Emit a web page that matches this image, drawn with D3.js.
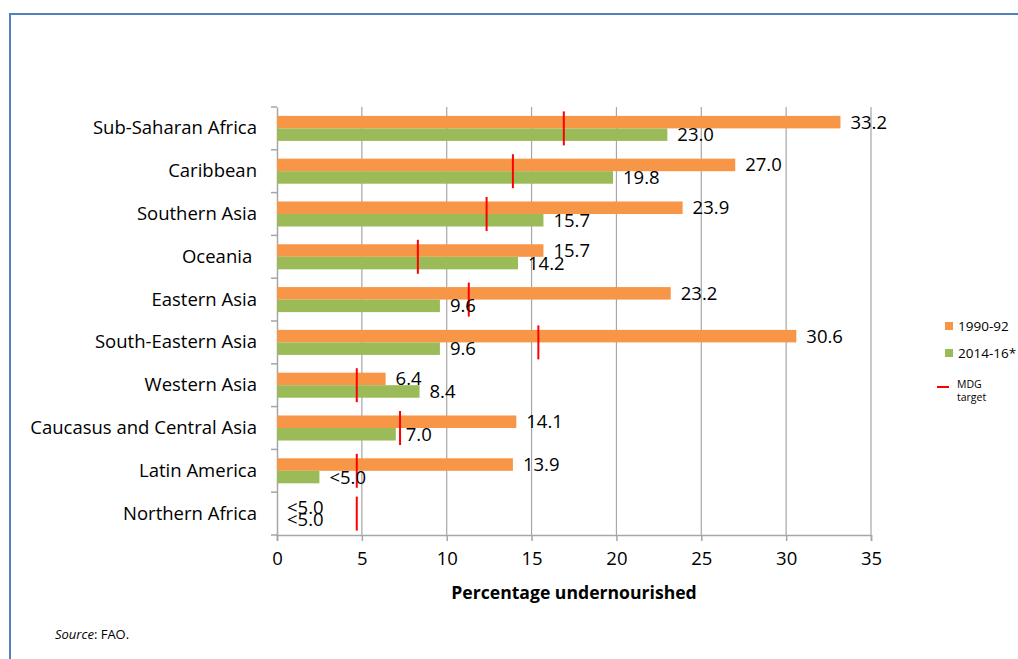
<!DOCTYPE html>
<html>
<head>
<meta charset="utf-8">
<script src="https://cdn.jsdelivr.net/npm/d3@7"></script>
<style>
  html, body { margin: 0; padding: 0; background: #fff; }
  svg { display: block; }
  text { font-family: "Open Sans", "Noto Sans", sans-serif; fill: #000; }
</style>
</head>
<body>
<svg id="chart" width="1018" height="659"></svg>
<script>
const categories = ["Sub-Saharan Africa", "Caribbean", "Southern Asia", "Oceania ", "Eastern Asia",
  "South-Eastern Asia", "Western Asia", "Caucasus and Central Asia", "Latin America", "Northern Africa"];
const values1990 = [33.2, 27.0, 23.9, 15.7, 23.2, 30.6, 6.4, 14.1, 13.9, 0];
const values2014 = [23.0, 19.8, 15.7, 14.2, 9.6, 9.6, 8.4, 7.0, 2.5, 0];
const labels1990 = ["33.2", "27.0", "23.9", "15.7", "23.2", "30.6", "6.4", "14.1", "13.9", "<5.0"];
const labels2014 = ["23.0", "19.8", "15.7", "14.2", "9.6", "9.6", "8.4", "7.0", "<5.0", "<5.0"];
const mdgTarget = [16.9, 13.9, 12.35, 8.3, 11.3, 15.4, 4.7, 7.25, 4.7, 4.7];
const seriesNames = ["1990-92", "2014-16*"];
const xTicks = [0, 5, 10, 15, 20, 25, 30, 35];

(function () {
const colors = { "1990-92": "#f79646", "2014-16*": "#9bbb59" };
const svg = d3.select("#chart");

// frame border
svg.append("line").attr("x1", 10).attr("x2", 1018).attr("y1", 14).attr("y2", 14)
  .attr("stroke", "#4f81bd").attr("stroke-width", 2);
svg.append("line").attr("x1", 10).attr("x2", 10).attr("y1", 13).attr("y2", 659)
  .attr("stroke", "#4f81bd").attr("stroke-width", 2);

const pLeft = 277, pRight = 871, pTop = 107, pBottom = 535;
const x = d3.scaleLinear().domain([0, 35]).range([pLeft, pRight]);
const y = d3.scaleBand().domain(categories).range([pTop, pBottom]).padding(0);
const ys = d3.scaleBand().domain(seriesNames).range([0, y.bandwidth()]).paddingInner(0).paddingOuter(0.71);

// gridlines
svg.append("g").selectAll("line").data(xTicks.slice(1)).join("line")
  .attr("x1", d => x(d)).attr("x2", d => x(d)).attr("y1", pTop).attr("y2", pBottom)
  .attr("stroke", "#a6a6a6").attr("stroke-width", 1.2);

// x axis
const xAxis = svg.append("g").attr("transform", `translate(0,${pBottom})`)
  .call(d3.axisBottom(x).tickValues(xTicks).tickSize(6).tickPadding(11).tickFormat(d3.format("d")));
xAxis.select(".domain").attr("stroke", "#a6a6a6").attr("stroke-width", 1.5);
xAxis.selectAll(".tick line").attr("stroke", "#a6a6a6").attr("stroke-width", 1.5);
xAxis.selectAll(".tick text").attr("font-size", 18.5).attr("font-family", "Open Sans, sans-serif").attr("fill", "#000");

// y axis
const yAxis = svg.append("g").attr("transform", `translate(${pLeft},0)`)
  .call(d3.axisLeft(y).tickSize(0).tickPadding(20));
yAxis.select(".domain").attr("stroke", "#a6a6a6").attr("stroke-width", 1.5);
yAxis.selectAll(".tick text").attr("font-size", 18.5).attr("font-family", "Open Sans, sans-serif")
  .attr("fill", "#000").style("white-space", "pre");
// y tick marks at band boundaries
const boundaries = categories.map(c => y(c)).concat([pBottom]);
svg.append("g").selectAll("line").data(boundaries).join("line")
  .attr("x1", pLeft - 6).attr("x2", pLeft).attr("y1", d => d).attr("y2", d => d)
  .attr("stroke", "#a6a6a6").attr("stroke-width", 1.5);

// bars
const rows = categories.map((c, i) => ({ c, i }));
const g = svg.append("g");
g.selectAll("rect.s1").data(rows).join("rect")
  .attr("x", x(0)).attr("y", d => y(d.c) + ys("1990-92"))
  .attr("width", d => x(values1990[d.i]) - x(0)).attr("height", ys.bandwidth())
  .attr("fill", colors["1990-92"]);
g.selectAll("rect.s2").data(rows).join("rect")
  .attr("x", x(0)).attr("y", d => y(d.c) + ys("2014-16*"))
  .attr("width", d => x(values2014[d.i]) - x(0)).attr("height", ys.bandwidth())
  .attr("fill", colors["2014-16*"]);

// MDG target lines
g.selectAll("line.mdg").data(rows).join("line")
  .attr("x1", d => x(mdgTarget[d.i])).attr("x2", d => x(mdgTarget[d.i]))
  .attr("y1", d => y(d.c) + y.bandwidth() / 2 - 17).attr("y2", d => y(d.c) + y.bandwidth() / 2 + 17)
  .attr("stroke", "#ff0000").attr("stroke-width", 2);

// value labels
g.selectAll("text.l1").data(rows).join("text")
  .attr("x", d => x(values1990[d.i]) + 10).attr("y", d => y(d.c) + ys("1990-92") + ys.bandwidth() / 2)
  .attr("dy", "0.35em").attr("font-size", 18.5).text(d => labels1990[d.i]);
g.selectAll("text.l2").data(rows).join("text")
  .attr("x", d => x(values2014[d.i]) + 10).attr("y", d => y(d.c) + ys("2014-16*") + ys.bandwidth() / 2)
  .attr("dy", "0.35em").attr("font-size", 18.5).text(d => labels2014[d.i]);

// axis title
svg.append("text").attr("x", (pLeft + pRight) / 2).attr("y", 593).attr("dy", "0.35em")
  .attr("text-anchor", "middle").attr("font-size", 17.6).attr("font-weight", "bold")
  .text("Percentage undernourished");

// legend
const leg = svg.append("g");
seriesNames.forEach((s, i) => {
  const cy = 326 + i * 27;
  leg.append("rect").attr("x", 945).attr("y", cy - 4).attr("width", 8).attr("height", 8).attr("fill", colors[s]);
  leg.append("text").attr("x", 958).attr("y", cy).attr("dy", "0.35em").attr("font-size", 13.5).text(s);
});
leg.append("line").attr("x1", 937).attr("x2", 949).attr("y1", 387).attr("y2", 387)
  .attr("stroke", "#ff0000").attr("stroke-width", 2);
leg.append("text").attr("x", 957).attr("y", 384).attr("dy", "0.35em").attr("font-size", 10.5).text("MDG");
leg.append("text").attr("x", 957).attr("y", 397).attr("dy", "0.35em").attr("font-size", 10.5).text("target");

// source
const src = svg.append("text").attr("x", 55).attr("y", 634).attr("dy", "0.35em").attr("font-size", 13);
src.append("tspan").attr("font-style", "italic").text("Source");
src.append("tspan").text(": FAO.");
})();
</script>
</body>
</html>
